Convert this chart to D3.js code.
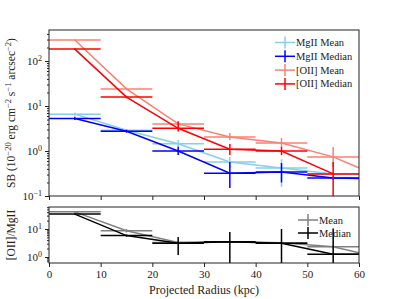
<!DOCTYPE html>
<html>
<head>
<meta charset="utf-8">
<script src="https://cdn.jsdelivr.net/npm/d3@7"></script>
<style>
  body { margin: 0; background: #fff; }
  svg { display: block; font-family: "Liberation Serif", "DejaVu Serif", serif; }
  .tick text { fill: #222; }
</style>
</head>
<body>
<svg id="chart" width="399" height="299"></svg>
<script>
// radius bins (kpc), last bin lies beyond the plotted range
var radius = [5, 15, 25, 35, 45, 55, 65];
var binHalf = 5;

// surface brightness, 1e-20 erg cm^-2 s^-1 arcsec^-2
var mgMean     = [6.6, 2.9, 1.45, 0.57, 0.42, 0.31, 0.31];
var mgMeanLo   = [6.1, 2.7, 1.2, 0.42, 0.16, 0.29, null];
var mgMeanHi   = [7.1, 3.1, 1.75, 0.74, 0.66, 0.33, null];
var mgMedian   = [5.3, 2.75, 1.0, 0.32, 0.34, 0.25, 0.24];
var mgMedianLo = [4.9, 2.55, 0.82, 0.15, 0.2, 0.23, null];
var mgMedianHi = [5.8, 2.95, 1.25, 0.57, 0.54, 0.27, null];
var oMean      = [293, 24, 4.0, 2.05, 1.5, 0.74, 0.24];
var oMeanLo    = [280, 22.5, 3.6, 1.76, 1.17, 0.44, null];
var oMeanHi    = [306, 25.5, 4.6, 2.5, 1.94, 1.23, null];
var oMedian    = [184, 15.8, 3.2, 1.1, 1.0, 0.31, null];
var oMedianLo  = [176, 14.8, 2.7, 0.81, 0.81, 0.05, null];
var oMedianHi  = [192, 16.8, 4.5, 1.43, 1.23, 0.57, null];

// [OII]/MgII ratio
var ratioMean     = [41, 8.7, 3.3, 3.5, 3.2, 2.3, 0.87];
var ratioMeanLo   = [38, 7.5, 3.0, 3.2, 2.9, 2.0, null];
var ratioMeanHi   = [44, 10, 3.6, 3.8, 3.5, 2.6, null];
var ratioMedian   = [34, 5.8, 3.1, 3.5, 3.1, 1.25, 1.25];
var ratioMedianLo = [32, 5.3, 1.18, 0.3, 0.3, 0.3, null];
var ratioMedianHi = [36, 6.3, 5.2, 7.8, 10, 10.5, null];

var xTicks = [0, 10, 20, 30, 40, 50, 60];
var sbTicks = [0.1, 1, 10, 100];
var ratioTicks = [1, 10];

var topSeries = [
  {name: "MgII Mean",    color: "#87ceeb", v: mgMean,   lo: mgMeanLo,   hi: mgMeanHi},
  {name: "MgII Median",  color: "#0000ff", v: mgMedian, lo: mgMedianLo, hi: mgMedianHi},
  {name: "[OII] Mean",   color: "#fa8072", v: oMean,    lo: oMeanLo,    hi: oMeanHi},
  {name: "[OII] Median", color: "#ff0000", v: oMedian,  lo: oMedianLo,  hi: oMedianHi}
];
var botSeries = [
  {name: "Mean",   color: "#808080", v: ratioMean,   lo: ratioMeanLo,   hi: ratioMeanHi},
  {name: "Median", color: "#000000", v: ratioMedian, lo: ratioMedianLo, hi: ratioMedianHi}
];

var svg = d3.select("#chart");
var left = 49, right = 359;

var x = d3.scaleLinear().domain([0, 60]).range([left, right]);
var ySB = d3.scaleLog().domain([0.1, 489]).range([196, 30]);
var yR = d3.scaleLog().domain([0.61, 61]).range([263, 207]);

function expLabel(sel, d) {
  var e = Math.round(Math.log10(d));
  sel.text("");
  sel.append("tspan").text("10");
  sel.append("tspan").attr("dy", "-0.45em").attr("font-size", "8px").text(e < 0 ? "\u2212" + (-e) : e);
}

function minorTicks(domain) {
  var out = [];
  var lo = Math.floor(Math.log10(domain[0])), hi = Math.ceil(Math.log10(domain[1]));
  for (var p = lo; p <= hi; p++)
    for (var m = 2; m <= 9; m++) {
      var v = m * Math.pow(10, p);
      if (v >= domain[0] && v <= domain[1]) out.push(v);
    }
  return out;
}

function drawPanel(y, series, id, majors, showX) {
  var top = y.range()[1], bottom = y.range()[0];
  var g = svg.append("g");

  svg.append("clipPath").attr("id", id)
    .append("rect").attr("x", left).attr("y", top)
    .attr("width", right - left).attr("height", bottom - top);

  // y minor ticks
  g.append("g").attr("transform", "translate(" + left + ",0)")
    .call(d3.axisLeft(y).tickValues(minorTicks(y.domain())).tickSize(2).tickFormat(""))
    .call(function(a) { a.select(".domain").remove(); a.selectAll("line").attr("stroke", "#222"); });

  // y major ticks
  g.append("g").attr("transform", "translate(" + left + ",0)")
    .call(d3.axisLeft(y).tickValues(majors).tickSize(4).tickPadding(3))
    .call(function(a) {
      a.select(".domain").remove();
      a.selectAll("line").attr("stroke", "#222");
      a.selectAll("text").attr("font-size", "11px").attr("font-family", "Liberation Serif")
        .each(function(d) { expLabel(d3.select(this), d); });
    });

  // x ticks
  g.append("g").attr("transform", "translate(0," + bottom + ")")
    .call(d3.axisBottom(x).tickValues(xTicks).tickSize(4).tickPadding(3)
      .tickFormat(showX ? d3.format("d") : ""))
    .call(function(a) {
      a.select(".domain").remove();
      a.selectAll("line").attr("stroke", "#222");
      a.selectAll("text").attr("font-size", "11px").attr("font-family", "Liberation Serif");
    });

  var plot = g.append("g").attr("clip-path", "url(#" + id + ")");
  var line = d3.line()
    .defined(function(d) { return d[1] != null; })
    .x(function(d) { return x(d[0]); })
    .y(function(d) { return y(d[1]); });

  series.forEach(function(s) {
    var pts = radius.map(function(r, i) { return [r, s.v[i]]; });
    plot.append("path").datum(pts)
      .attr("d", line).attr("fill", "none")
      .attr("stroke", s.color).attr("stroke-width", 1.5);

    var eb = plot.append("g").attr("stroke", s.color).attr("stroke-width", 1.5);
    radius.forEach(function(r, i) {
      if (s.v[i] == null || s.lo[i] == null) return;
      eb.append("line")
        .attr("x1", x(r - binHalf)).attr("x2", x(r + binHalf))
        .attr("y1", y(s.v[i])).attr("y2", y(s.v[i]));
      eb.append("line")
        .attr("x1", x(r)).attr("x2", x(r))
        .attr("y1", y(s.lo[i])).attr("y2", y(s.hi[i]));
    });
  });

  g.append("rect").attr("x", left).attr("y", top)
    .attr("width", right - left).attr("height", bottom - top)
    .attr("fill", "none").attr("stroke", "#222").attr("stroke-width", 1);
}

drawPanel(ySB, topSeries, "clipTop", sbTicks, false);
drawPanel(yR, botSeries, "clipBot", ratioTicks, true);

// legends
function legend(series, x0, y0, dy) {
  var lg = svg.append("g");
  series.forEach(function(s, i) {
    var yy = y0 + i * dy;
    lg.append("line").attr("x1", x0).attr("x2", x0 + 20).attr("y1", yy).attr("y2", yy)
      .attr("stroke", s.color).attr("stroke-width", 1.5);
    lg.append("line").attr("x1", x0 + 10).attr("x2", x0 + 10).attr("y1", yy - 6).attr("y2", yy + 6)
      .attr("stroke", s.color).attr("stroke-width", 1.5);
    lg.append("text").attr("x", x0 + 21).attr("y", yy + 3.5)
      .attr("font-size", "10.5px").attr("fill", "#222").text(s.name);
  });
}
legend(topSeries, 275, 42.5, 13.8);
legend(botSeries, 298, 220, 13);

// axis labels
svg.append("text").attr("x", 204).attr("y", 294).attr("text-anchor", "middle")
  .attr("font-size", "12px").attr("fill", "#222").text("Projected Radius (kpc)");

var yl = svg.append("text").attr("transform", "translate(15,113) rotate(-90)")
  .attr("text-anchor", "middle").attr("font-size", "11.5px").attr("fill", "#222");
[["SB (10", 0], ["\u221220", 1], [" erg cm", 0], ["\u22122", 1], [" s", 0], ["\u22121", 1],
 [" arcsec", 0], ["\u22122", 1], [")", 0]].forEach(function(p, i, arr) {
  var prev = i > 0 ? arr[i - 1][1] : 0;
  var dy = p[1] === prev ? 0 : (p[1] ? -4.5 : 4.5);
  yl.append("tspan").attr("dy", dy).attr("font-size", p[1] ? "8.5px" : "11.5px").text(p[0]);
});

svg.append("text").attr("transform", "translate(15,235) rotate(-90)")
  .attr("text-anchor", "middle").attr("font-size", "11.5px").attr("fill", "#222").text("[OII]/MgII");
</script>
</body>
</html>
